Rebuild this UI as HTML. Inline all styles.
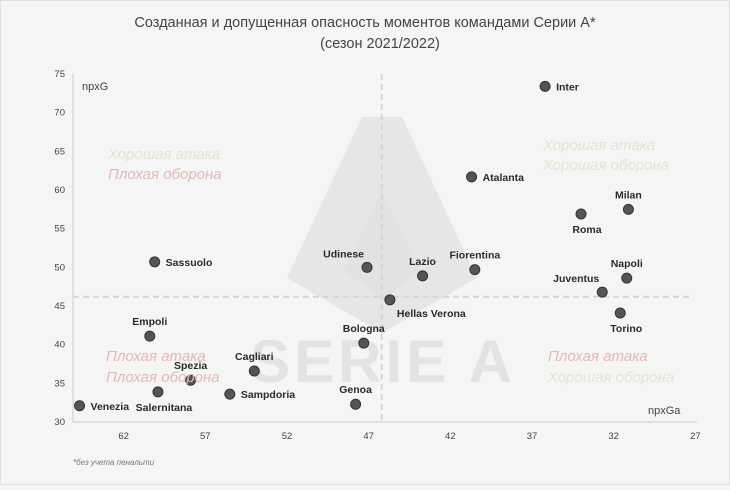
<!DOCTYPE html>
<html><head><meta charset="utf-8">
<style>
html,body{margin:0;padding:0;background:#f5f5f5;}
body{width:730px;height:485px;overflow:hidden;font-family:"Liberation Sans","DejaVu Sans",sans-serif;}
svg text{font-family:"Liberation Sans","DejaVu Sans",sans-serif;}
</style></head>
<body>
<svg id="chart" width="730" height="485" viewBox="0 0 730 485" xmlns="http://www.w3.org/2000/svg">
<rect x="0.5" y="0.5" width="729" height="484" fill="#f5f5f5" stroke="#e0e0e0"/>
<text x="365" y="27" text-anchor="middle" font-size="14.5" fill="#444">Созданная и допущенная опасность моментов командами Серии А*</text>
<text x="380" y="48" text-anchor="middle" font-size="14.5" fill="#444">(сезон 2021/2022)</text>
<g>
<polygon points="362,117 402,117 477,278 382,333 287,278" fill="#e6e6e6"/>
<polygon points="382,190 420,270 382,300 344,270" fill="#e2e2e2"/>
<text x="383" y="382" text-anchor="middle" font-size="60" font-weight="bold" fill="#e3e3e3" letter-spacing="4">SERIE A</text>
</g>
<g id="axes"></g>
<g id="marks"></g>
<text x="82" y="90" font-size="11" fill="#444">npxG</text>
<text x="648" y="414" font-size="11" fill="#444">npxGa</text>
<g font-size="15" font-style="italic">
<text x="108" y="159" fill="#dfe6cf">Хорошая атака</text>
<text x="108" y="179" fill="#e3b9b6">Плохая оборона</text>
<text x="543" y="150" fill="#dfe6cf">Хорошая атака</text>
<text x="543" y="170" fill="#dfe6cf">Хорошая оборона</text>
<text x="106" y="361" fill="#e3b9b6">Плохая атака</text>
<text x="106" y="382" fill="#e3b9b6">Плохая оборона</text>
<text x="548" y="361" fill="#e3b9b6">Плохая атака</text>
<text x="548" y="382" fill="#dfe6cf">Хорошая оборона</text>
</g>
<text x="73" y="465" font-size="8" font-style="italic" fill="#777">*без учета пенальти</text>
</svg>
<script>
const teams=["Venezia","Salernitana","Spezia","Sampdoria","Cagliari","Empoli","Sassuolo","Genoa","Bologna","Udinese","Hellas Verona","Lazio","Fiorentina","Atalanta","Inter","Roma","Milan","Napoli","Juventus","Torino"];
const npxGa=[64.7,59.9,57.9,55.5,54.0,60.4,60.1,47.8,47.3,47.1,45.7,43.7,40.5,40.7,36.2,34.0,31.1,31.2,32.7,31.6];
const npxG=[32.1,33.9,35.4,33.6,36.6,41.1,50.7,32.3,40.2,50.0,45.8,48.9,49.7,61.7,73.4,56.9,57.5,48.6,46.8,44.1];
const labelPos=["r","b","t","r","t","t","r","t","t","tl","br","t","t","r","r","b","t","t","tl","b"];
const xTicks=[62,57,52,47,42,37,32,27];
const yTicks=[30,35,40,45,50,55,60,65,70,75];
const avgX=46.2, avgY=46.2;
const NS="http://www.w3.org/2000/svg";
const X0=73,X1=697,Y0=74,Y1=422;
const xMin=65.1,xMax=26.9,yMin=30,yMax=75;
function sx(v){return X0+(xMin-v)/(xMin-xMax)*(X1-X0);}
function sy(v){return Y1-(v-yMin)/(yMax-yMin)*(Y1-Y0);}
function mk(tag,attrs,parent){const e=document.createElementNS(NS,tag);for(const k in attrs)e.setAttribute(k,attrs[k]);parent.appendChild(e);return e;}
const axes=document.getElementById('axes'),marks=document.getElementById('marks');
let e=mk('line',{x1:X0,y1:Y0,x2:X0,y2:Y1,stroke:'#ccc'},axes);


e=mk('line',{x1:X0,y1:Y1,x2:X1,y2:Y1,stroke:'#ccc'},axes);


xTicks.forEach(t=>{const el=mk('text',{x:sx(t),y:439,'text-anchor':'middle','font-size':'9.5',fill:'#444'},axes);el.textContent=t;

});
yTicks.forEach(t=>{const el=mk('text',{x:65,y:sy(t)+3,'text-anchor':'end','font-size':'9.5',fill:'#444'},axes);el.textContent=t;

});
e=mk('line',{x1:sx(avgX),y1:Y0,x2:sx(avgX),y2:Y1,stroke:'#d5d5d5','stroke-width':2,'stroke-dasharray':'6,4'},axes);


e=mk('line',{x1:X0,y1:sy(avgY),x2:693,y2:sy(avgY),stroke:'#d5d5d5','stroke-width':2,'stroke-dasharray':'6,4'},axes);


teams.forEach((t,i)=>{const cx=sx(npxGa[i]),cy=sy(npxG[i]);
const c=mk('circle',{cx:cx,cy:cy,r:5,fill:'#555',stroke:'#333','stroke-width':1},marks);


let lx=cx+11,ly=cy+4,anc='start';const p=labelPos[i];
if(p==='t'){lx=cx;ly=cy-11;anc='middle';}
if(p==='b'){lx=cx+6;ly=cy+19;anc='middle';}
if(p==='tl'){lx=cx-3;ly=cy-10;anc='end';}
if(p==='br'){lx=cx+7;ly=cy+17;anc='start';}
const tx=mk('text',{x:lx,y:ly,'text-anchor':anc,'font-size':'10.5','font-weight':'600',fill:'#2a2a2a'},marks);tx.textContent=t;

});
</script>
</body></html>
